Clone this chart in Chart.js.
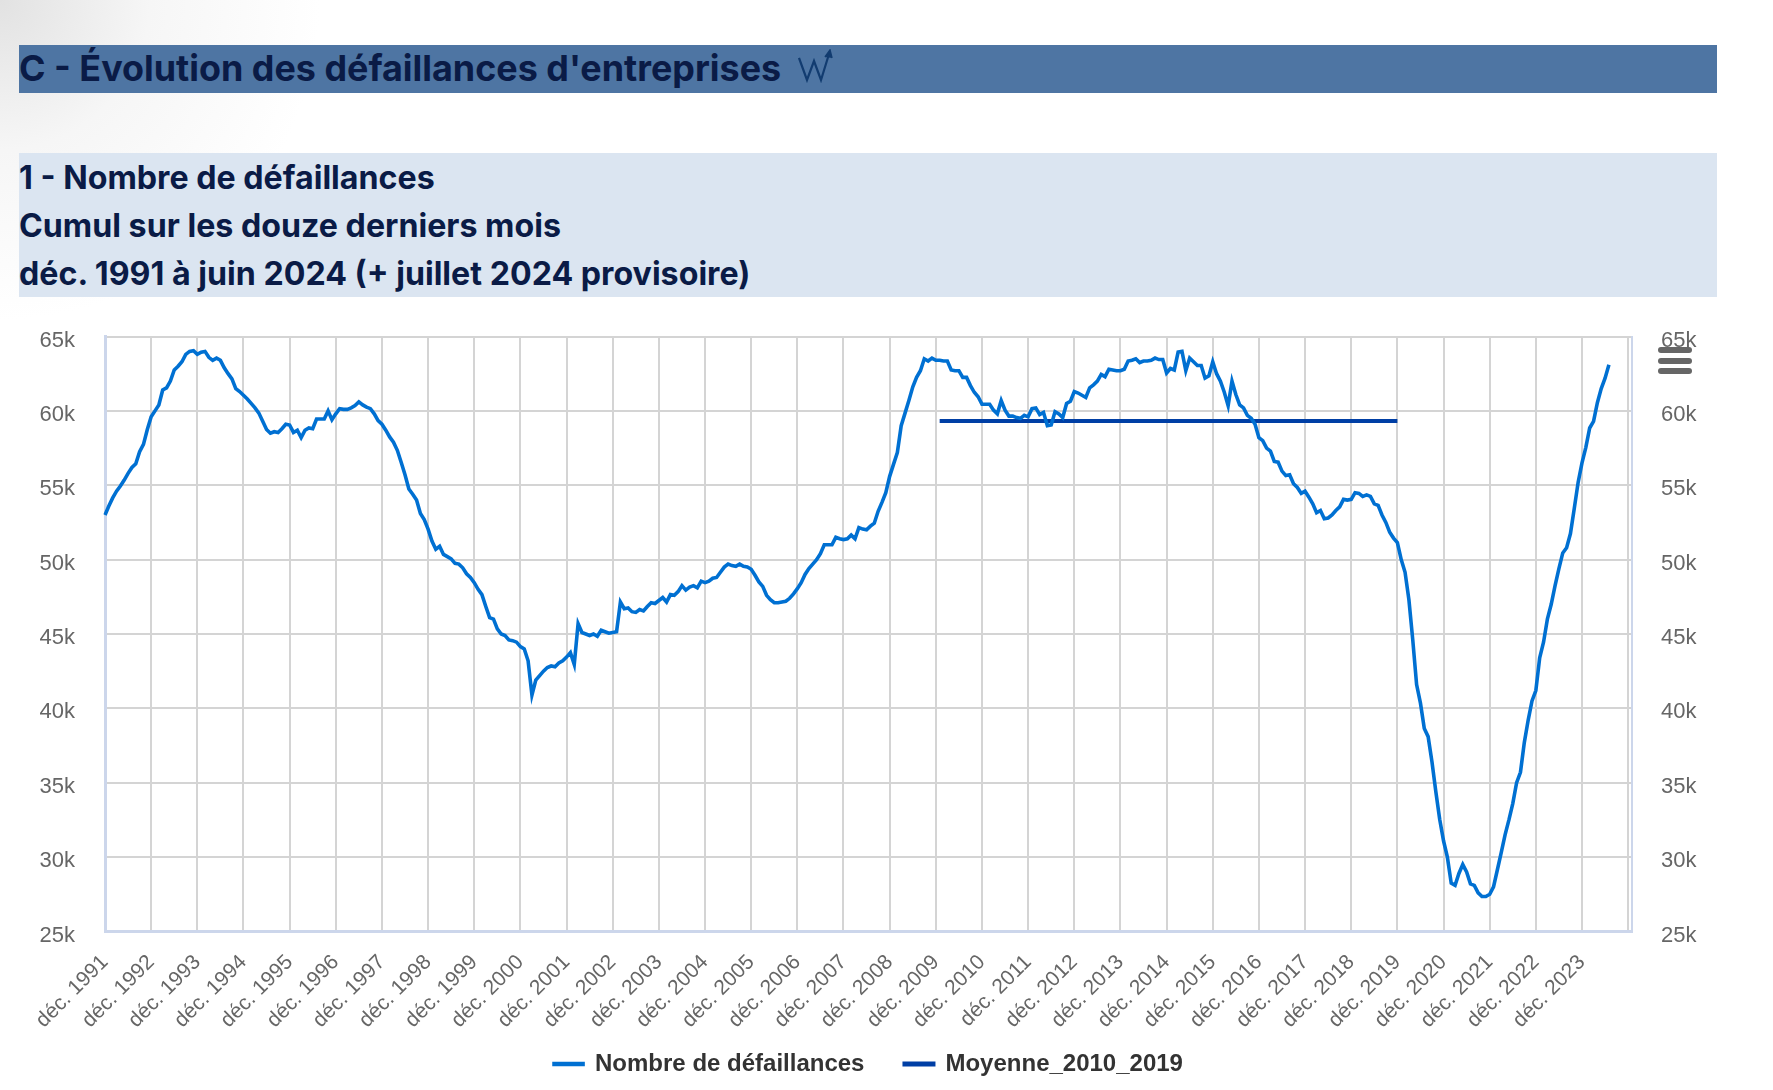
<!DOCTYPE html>
<html lang="fr">
<head>
<meta charset="utf-8">
<title>Évolution des défaillances d'entreprises</title>
<script src="https://cdn.jsdelivr.net/npm/chart.js@4"></script>
<style>
    html, body { margin: 0; padding: 0; width: 1773px; height: 1090px; overflow: hidden; background: #fff; }
    body { position: relative; font-family: Inter, sans-serif; color: #0a1b46; }
    .corner { position: absolute; left: 0; top: 0; width: 420px; height: 420px;
        background: radial-gradient(circle at 0 0, #e2e2e2 0, #f6f6f6 150px, #fff 320px); }
    .band-main { position: absolute; left: 19px; top: 45px; width: 1698px; height: 48px; background: #4e75a3; }
    .band-main span { position: absolute; left: 0; top: -1px; line-height: 48px; font-size: 35.9px; font-weight: 700; white-space: nowrap; }
    .band-main svg { position: absolute; left: 779px; top: 4px; }
    .band-sub { position: absolute; left: 19px; top: 153px; width: 1698px; height: 143px; padding-top: 1px; background: #dbe5f1; }
    .band-sub div { height: 48px; line-height: 48px; font-size: 32.2px; font-weight: 700; white-space: nowrap; }
    .menu { position: absolute; left: 1658px; top: 347px; width: 34px; }
    .menu div { height: 6px; margin-bottom: 4.5px; border-radius: 3px; background: #666; }
    .chart-box { position: absolute; left: 0; top: 0; width: 1773px; height: 1090px; }
</style>
</head>
<body>
<div class="corner"></div>
<div class="band-main">
    <span>C - Évolution des défaillances d'entreprises</span>
    <svg width="36" height="34" viewBox="0 0 36 34" fill="none" stroke="#123c70" stroke-width="2.2">
        <polyline points="1,9 9,31 16,12 23,31 31,5"/>
        <polyline points="27,8 32,1 34,9" stroke-width="1.5" fill="#123c70"/>
    </svg>
</div>
<div class="band-sub">
    <div>1 - Nombre de défaillances</div>
    <div>Cumul sur les douze derniers mois</div>
    <div>déc. 1991 à juin 2024 (+ juillet 2024 provisoire)</div>
</div>
<div class="chart-box"><canvas id="defaillancesChart"></canvas></div>
<div class="menu"><div></div><div></div><div></div></div>

<script>
    // Tick labels, one every 12 months
    const tickLabels = [
        'déc. 1991', 'déc. 1992', 'déc. 1993', 'déc. 1994', 'déc. 1995', 'déc. 1996', 'déc. 1997',
        'déc. 1998', 'déc. 1999', 'déc. 2000', 'déc. 2001', 'déc. 2002', 'déc. 2003', 'déc. 2004',
        'déc. 2005', 'déc. 2006', 'déc. 2007', 'déc. 2008', 'déc. 2009', 'déc. 2010', 'déc. 2011',
        'déc. 2012', 'déc. 2013', 'déc. 2014', 'déc. 2015', 'déc. 2016', 'déc. 2017', 'déc. 2018',
        'déc. 2019', 'déc. 2020', 'déc. 2021', 'déc. 2022', 'déc. 2023'
    ];

    // Monthly values, dec 1991 to jul 2024
    const defaillances = [
        53000, 53600, 54150, 54600, 54950, 55350, 55800, 56200, 56450, 57250, 57750, 58750,
        59600, 60000, 60400, 61400, 61550, 62000, 62750, 63000, 63300, 63800, 64000, 64050,
        63800, 63950, 64000, 63600, 63400, 63550, 63400, 62900, 62500, 62150, 61500, 61300,
        61050, 60800, 60500, 60200, 59850, 59300, 58750, 58500, 58600, 58550, 58800, 59100,
        59050, 58550, 58700, 58200, 58700, 58850, 58800, 59450, 59450, 59450, 60000, 59400,
        59800, 60150, 60100, 60100, 60200, 60350, 60600, 60400, 60250, 60150, 59800, 59350,
        59100, 58700, 58250, 57900, 57350, 56550, 55700, 54750, 54400, 54000, 53100, 52700,
        52050, 51250, 50700, 50900, 50350, 50200, 50050, 49750, 49700, 49450, 49050, 48800,
        48450, 48000, 47650, 46850, 46100, 46000, 45350, 45000, 44900, 44600, 44550, 44450,
        44150, 44000, 43200, 40900, 41900, 42200, 42500, 42750, 42850, 42800, 43050, 43200,
        43450, 43750, 42950, 45700, 45100, 45000, 44900, 45000, 44850, 45250, 45150, 45050,
        45100, 45150, 47150, 46700, 46750, 46500, 46450, 46650, 46550, 46850, 47100, 47050,
        47250, 47450, 47150, 47650, 47600, 47850, 48250, 47950, 48150, 48250, 48100, 48550,
        48450, 48550, 48750, 48800, 49150, 49500, 49700, 49600, 49550, 49700, 49550, 49500,
        49350, 48950, 48500, 48200, 47600, 47300, 47100, 47100, 47150, 47200, 47400, 47700,
        48050, 48450, 49000, 49400, 49700, 50000, 50400, 51000, 51000, 51000, 51500, 51400,
        51350, 51400, 51650, 51400, 52150, 52050, 52000, 52250, 52450, 53250, 53850, 54500,
        55600, 56400, 57200, 59000, 59850, 60700, 61600, 62250, 62700, 63500, 63350, 63550,
        63400, 63400, 63350, 63350, 62750, 62700, 62700, 62250, 62250, 61700, 61250, 60950,
        60450, 60450, 60450, 60050, 59800, 60700, 60050, 59650, 59650, 59550, 59500, 59700,
        59600, 60150, 60200, 59750, 59900, 59000, 59050, 59950, 59800, 59550, 60500, 60650,
        61300, 61200, 61050, 60900, 61550, 61750, 62000, 62450, 62300, 62800, 62750, 62700,
        62700, 62800, 63350, 63400, 63500, 63250, 63350, 63350, 63400, 63550, 63450, 63450,
        62550, 62850, 62750, 63950, 64000, 62700, 63550, 63300, 63050, 63050, 62200, 62350,
        63300, 62500, 62000, 61250, 60350, 62000, 61100, 60400, 60200, 59700, 59500, 59100,
        58200, 58000, 57500, 57300, 56600, 56550, 55950, 55650, 55700, 55100, 54850, 54450,
        54600, 54200, 53750, 53150, 53300, 52750, 52800, 53000, 53300, 53550, 54050, 54000,
        54050, 54500, 54450, 54250, 54350, 54250, 53750, 53650, 53000, 52500, 51850, 51450,
        51150, 50000, 49150, 47300, 44600, 41600, 40350, 38650, 38100, 36400, 34400, 32550,
        31100, 30000, 28250, 28100, 28900, 29500, 29000, 28200, 28100, 27600, 27350, 27350,
        27500, 28000, 29150, 30300, 31500, 32500, 33600, 35000, 35700, 37700, 39200, 40500,
        41200, 43400, 44450, 46000, 47000, 48250, 49400, 50450, 50800, 51750, 53450, 55200,
        56500, 57550, 58850, 59300, 60550, 61500, 62200, 63100
    ];

    // Mean over jan 2010 to dec 2019, given as month positions on the axis
    const moyenneValeur = 59320;
    const moyenneDebut = 217;
    const moyenneFin = 336;

    // Axis runs on to january 2025
    const nbMois = 398;

    const categories = [];
    for (let i = 0; i < nbMois; i++) {
        categories.push(i % 12 === 0 ? (tickLabels[i / 12] || '') : '');
    }
    const moyenne = categories.map((c, i) => (i >= moyenneDebut && i <= moyenneFin) ? moyenneValeur : null);

    const gridColor = '#d4d4d4';
    const axisColor = '#ccd6eb';
    const tickFont = { family: '"Liberation Sans", Arial, sans-serif', size: 22, lineHeight: '8px' };

    // the labels sit a little under their grid line, the empty first line does that
    const formatK = value => ['', value / 1000 + 'k'];

    // Chart.js clips tick labels to the scale box, here they reach down beside the legend
    const labelRoom = {
        id: 'labelRoom',
        afterLayout(chart) {
            chart.scales.x.bottom = chart.height;
        }
    };

    new Chart(document.getElementById('defaillancesChart').getContext('2d'), {
        type: 'line',
        plugins: [labelRoom],
        data: {
            labels: categories,
            datasets: [{
                label: 'Nombre de défaillances',
                data: defaillances,
                borderColor: '#0070d2',
                backgroundColor: '#0070d2',
                borderWidth: 3.6,
                pointRadius: 0,
                tension: 0
            }, {
                label: 'Moyenne_2010_2019',
                data: moyenne,
                borderColor: '#003fa5',
                backgroundColor: '#003fa5',
                borderWidth: 4,
                pointRadius: 0,
                spanGaps: false
            }]
        },
        options: {
            responsive: true,
            maintainAspectRatio: false,
            animation: false,
            layout: { padding: { top: 336.5, left: 0, right: 0, bottom: 4 } },
            plugins: {
                tooltip: { enabled: false },
                legend: {
                    position: 'bottom',
                    fullSize: false,
                    labels: {
                        boxWidth: 29,
                        boxHeight: 1,
                        padding: 40,
                        color: '#333333',
                        font: { family: '"Liberation Sans", Arial, sans-serif', size: 24, weight: 'bold' }
                    }
                }
            },
            scales: {
                x: {
                    offset: false,
                    border: { display: true, color: axisColor, width: 3 },
                    grid: {
                        drawTicks: false,
                        lineWidth: 2,
                        color: ctx => (ctx.index % 12 === 0 ? gridColor : 'transparent')
                    },
                    ticks: {
                        autoSkip: false,
                        minRotation: 45,
                        maxRotation: 45,
                        padding: 18.5,
                        color: '#666666',
                        font: { family: tickFont.family, size: 21 }
                    },
                    afterFit: scale => { scale.height = 80.5; }
                },
                y: {
                    position: 'left',
                    min: 25000,
                    max: 65000,
                    border: { display: true, color: axisColor, width: 3 },
                    grid: { drawTicks: false, lineWidth: 2, color: gridColor },
                    ticks: { stepSize: 5000, padding: 30, color: '#666666', font: tickFont, callback: formatK },
                    afterFit: scale => { scale.width = 105; }
                },
                y1: {
                    position: 'right',
                    min: 25000,
                    max: 65000,
                    border: { display: true, color: axisColor, width: 2 },
                    grid: { drawTicks: false, drawOnChartArea: false },
                    ticks: { stepSize: 5000, padding: 29, color: '#666666', font: tickFont, callback: formatK },
                    afterFit: scale => { scale.width = 141; }
                }
            }
        }
    });
</script>
</body>
</html>
